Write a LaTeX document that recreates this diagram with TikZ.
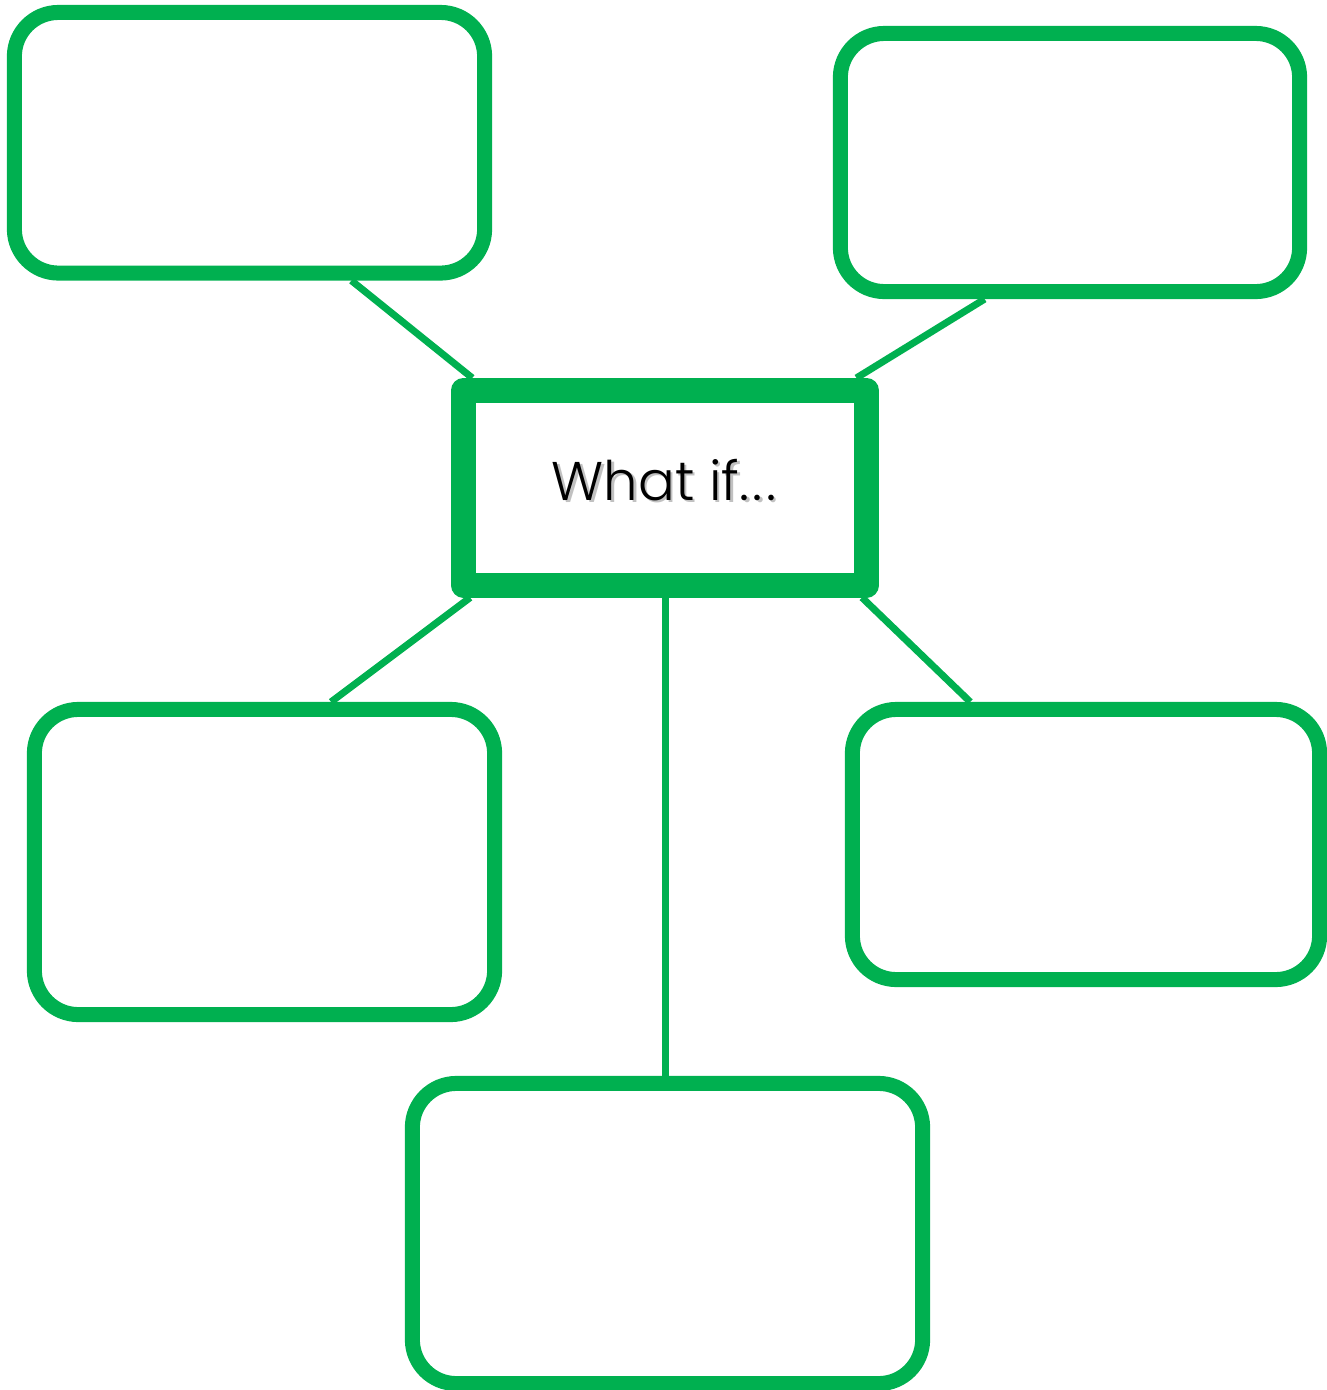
\documentclass[tikz,border=0pt]{standalone}
\usepackage{fontspec}
\newfontfamily\whatfont{Poppins Light}
\usetikzlibrary{positioning}
\usetikzlibrary{calc}
\definecolor{mapgreen}{RGB}{0,176,80}

\begin{document}
\begin{tikzpicture}[x=0.01cm, y=-0.01cm,
    idea/.style={draw=mapgreen, line width=0.15cm, rounded corners=0.44cm, fill=white, inner sep=0pt},
    hub/.style={draw=mapgreen, line width=0.25cm, line join=round, fill=white, inner sep=0pt},
    link/.style={draw=mapgreen, line width=0.07cm},
    whattext/.style={font=\whatfont\fontsize{15.5}{18}\selectfont}]
    \useasboundingbox (0,0) rectangle (1326,1390);

    % Central question
    \node[hub, minimum width=4.03cm, minimum height=1.945cm] (what) at (665,487.75) {};
    \node[whattext, text=black!40, opacity=0.6] (shadow) at (666.5,482) {What if.\kern1pt.\kern1pt.};
    \node[whattext] (label) at (664,480) {What if.\kern1pt.\kern1pt.};

    % Surrounding boxes
    \node[idea, minimum width=4.70cm, minimum height=2.605cm] (tl) at (249.5,142.75) {};
    \node[idea, minimum width=4.59cm, minimum height=2.58cm] (tr) at (1070,162.5) {};
    \node[idea, minimum width=4.60cm, minimum height=3.05cm] (bl) at (264.5,862) {};
    \node[idea, minimum width=4.67cm, minimum height=2.70cm] (br) at (1086,844.5) {};
    \node[idea, minimum width=5.10cm, minimum height=3.00cm] (bot) at (667.5,1233.5) {};

    % Connectors
    \draw[link] ($(what.north west)!0.05!(what.north east)$) -- ($(tl.south west)!0.71!(tl.south east)$);
    \draw[link] ($(what.north west)!0.947!(what.north east)$) -- ($(tr.south west)!0.32!(tr.south east)$);
    \draw[link] ($(what.south west)!0.045!(what.south east)$) -- ($(bl.north west)!0.64!(bl.north east)$);
    \draw[link] ($(what.south west)!0.96!(what.south east)$) -- ($(br.north west)!0.26!(br.north east)$);
    \draw[link] (what.south) -- (what.south |- bot.north);
\end{tikzpicture}
\end{document}
